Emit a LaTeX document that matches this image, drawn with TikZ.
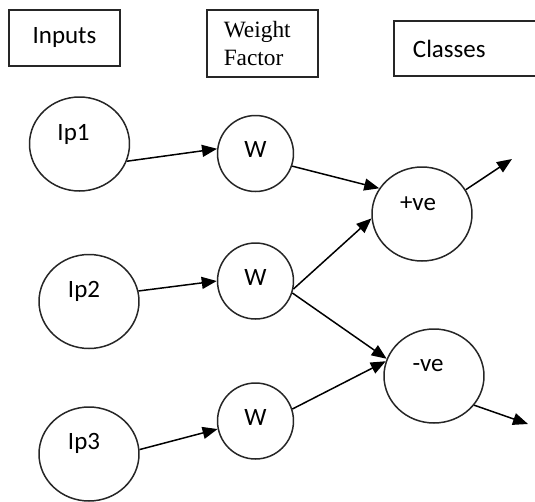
\documentclass[tikz,border=0pt]{standalone}
\usepackage{fontspec}
\setmainfont{Carlito}
\newfontfamily\timesface{Liberation Serif}
\usetikzlibrary{arrows.meta,shapes.geometric}

\begin{document}
\begin{tikzpicture}[-{Triangle[length=0.3cm,width=0.24cm]},line width=0.85pt,
  font=\fontsize{14.2}{17}\selectfont,
  big/.style ={draw=black!85,shape=ellipse,minimum width=2cm,minimum height=1.88cm,inner sep=0pt},
  small/.style ={draw=black!85,shape=circle,minimum size=1.52cm,inner sep=0pt},
  box/.style ={draw=black!85,line width=1.1pt,shape=rectangle}]

\useasboundingbox (0,0) rectangle (10.7,-10.04);
\clip (0,0) rectangle (10.7,-10.04);

% headings
\node[box,minimum width=2.22cm,minimum height=1.12cm] (inputs) at (1.29,-0.76) {Inputs};
\node[box,minimum width=2.22cm,minimum height=1.34cm,text width=1.55cm,align=left,
      font=\timesface\fontsize{13.3}{15.4}\selectfont] (weight) at (5.25,-0.87) {Weight\\Factor};
\node[box,anchor=west,minimum width=4cm,minimum height=1.1cm,inner xsep=0.38cm,
      text width=3.24cm,align=left] (classes) at (7.86,-0.97) {Classes};

% inputs
\node[big,label={[xshift=-0.12cm,yshift=0.2cm]center:Ip1}] (ip1) at (1.59,-2.88) {};
\node[big,label={[xshift=-0.1cm,yshift=0.2cm]center:Ip2}] (ip2) at (1.78,-6.03) {};
\node[big,label={[xshift=-0.1cm,yshift=0.22cm]center:Ip3}] (ip3) at (1.78,-9.08) {};

% weights
\node[small,label={[yshift=0.08cm]center:W}] (w1) at (5.11,-3.07) {};
\node[small,label={[yshift=0.08cm]center:W}] (w2) at (5.11,-5.62) {};
\node[small,label={[yshift=0.08cm]center:W}] (w3) at (5.11,-8.42) {};

% classes
\node[big,label={[xshift=-0.08cm,yshift=0.2cm]center:+ve}] (pos) at (8.44,-4.28) {};
\node[big,label={[xshift=-0.12cm,yshift=0.2cm]center:-ve}] (neg) at (8.68,-7.52) {};

\coordinate (posout) at (10.24,-3.18);
\coordinate (negout) at (10.56,-8.48);

\path (ip1.-20) edge (w1.173);
\path (ip2.12) edge (w2.180);
\path (ip3.5) edge (w3.192);
\path (w1.-19) edge (pos.149);
\path (w2.-12) edge (pos.185);
\path (w2.-18) edge (neg.160);
\path (w3.18) edge (neg.163);
\path (pos.29) edge (posout);
\path (neg.-36) edge (negout);
\end{tikzpicture}
\end{document}
